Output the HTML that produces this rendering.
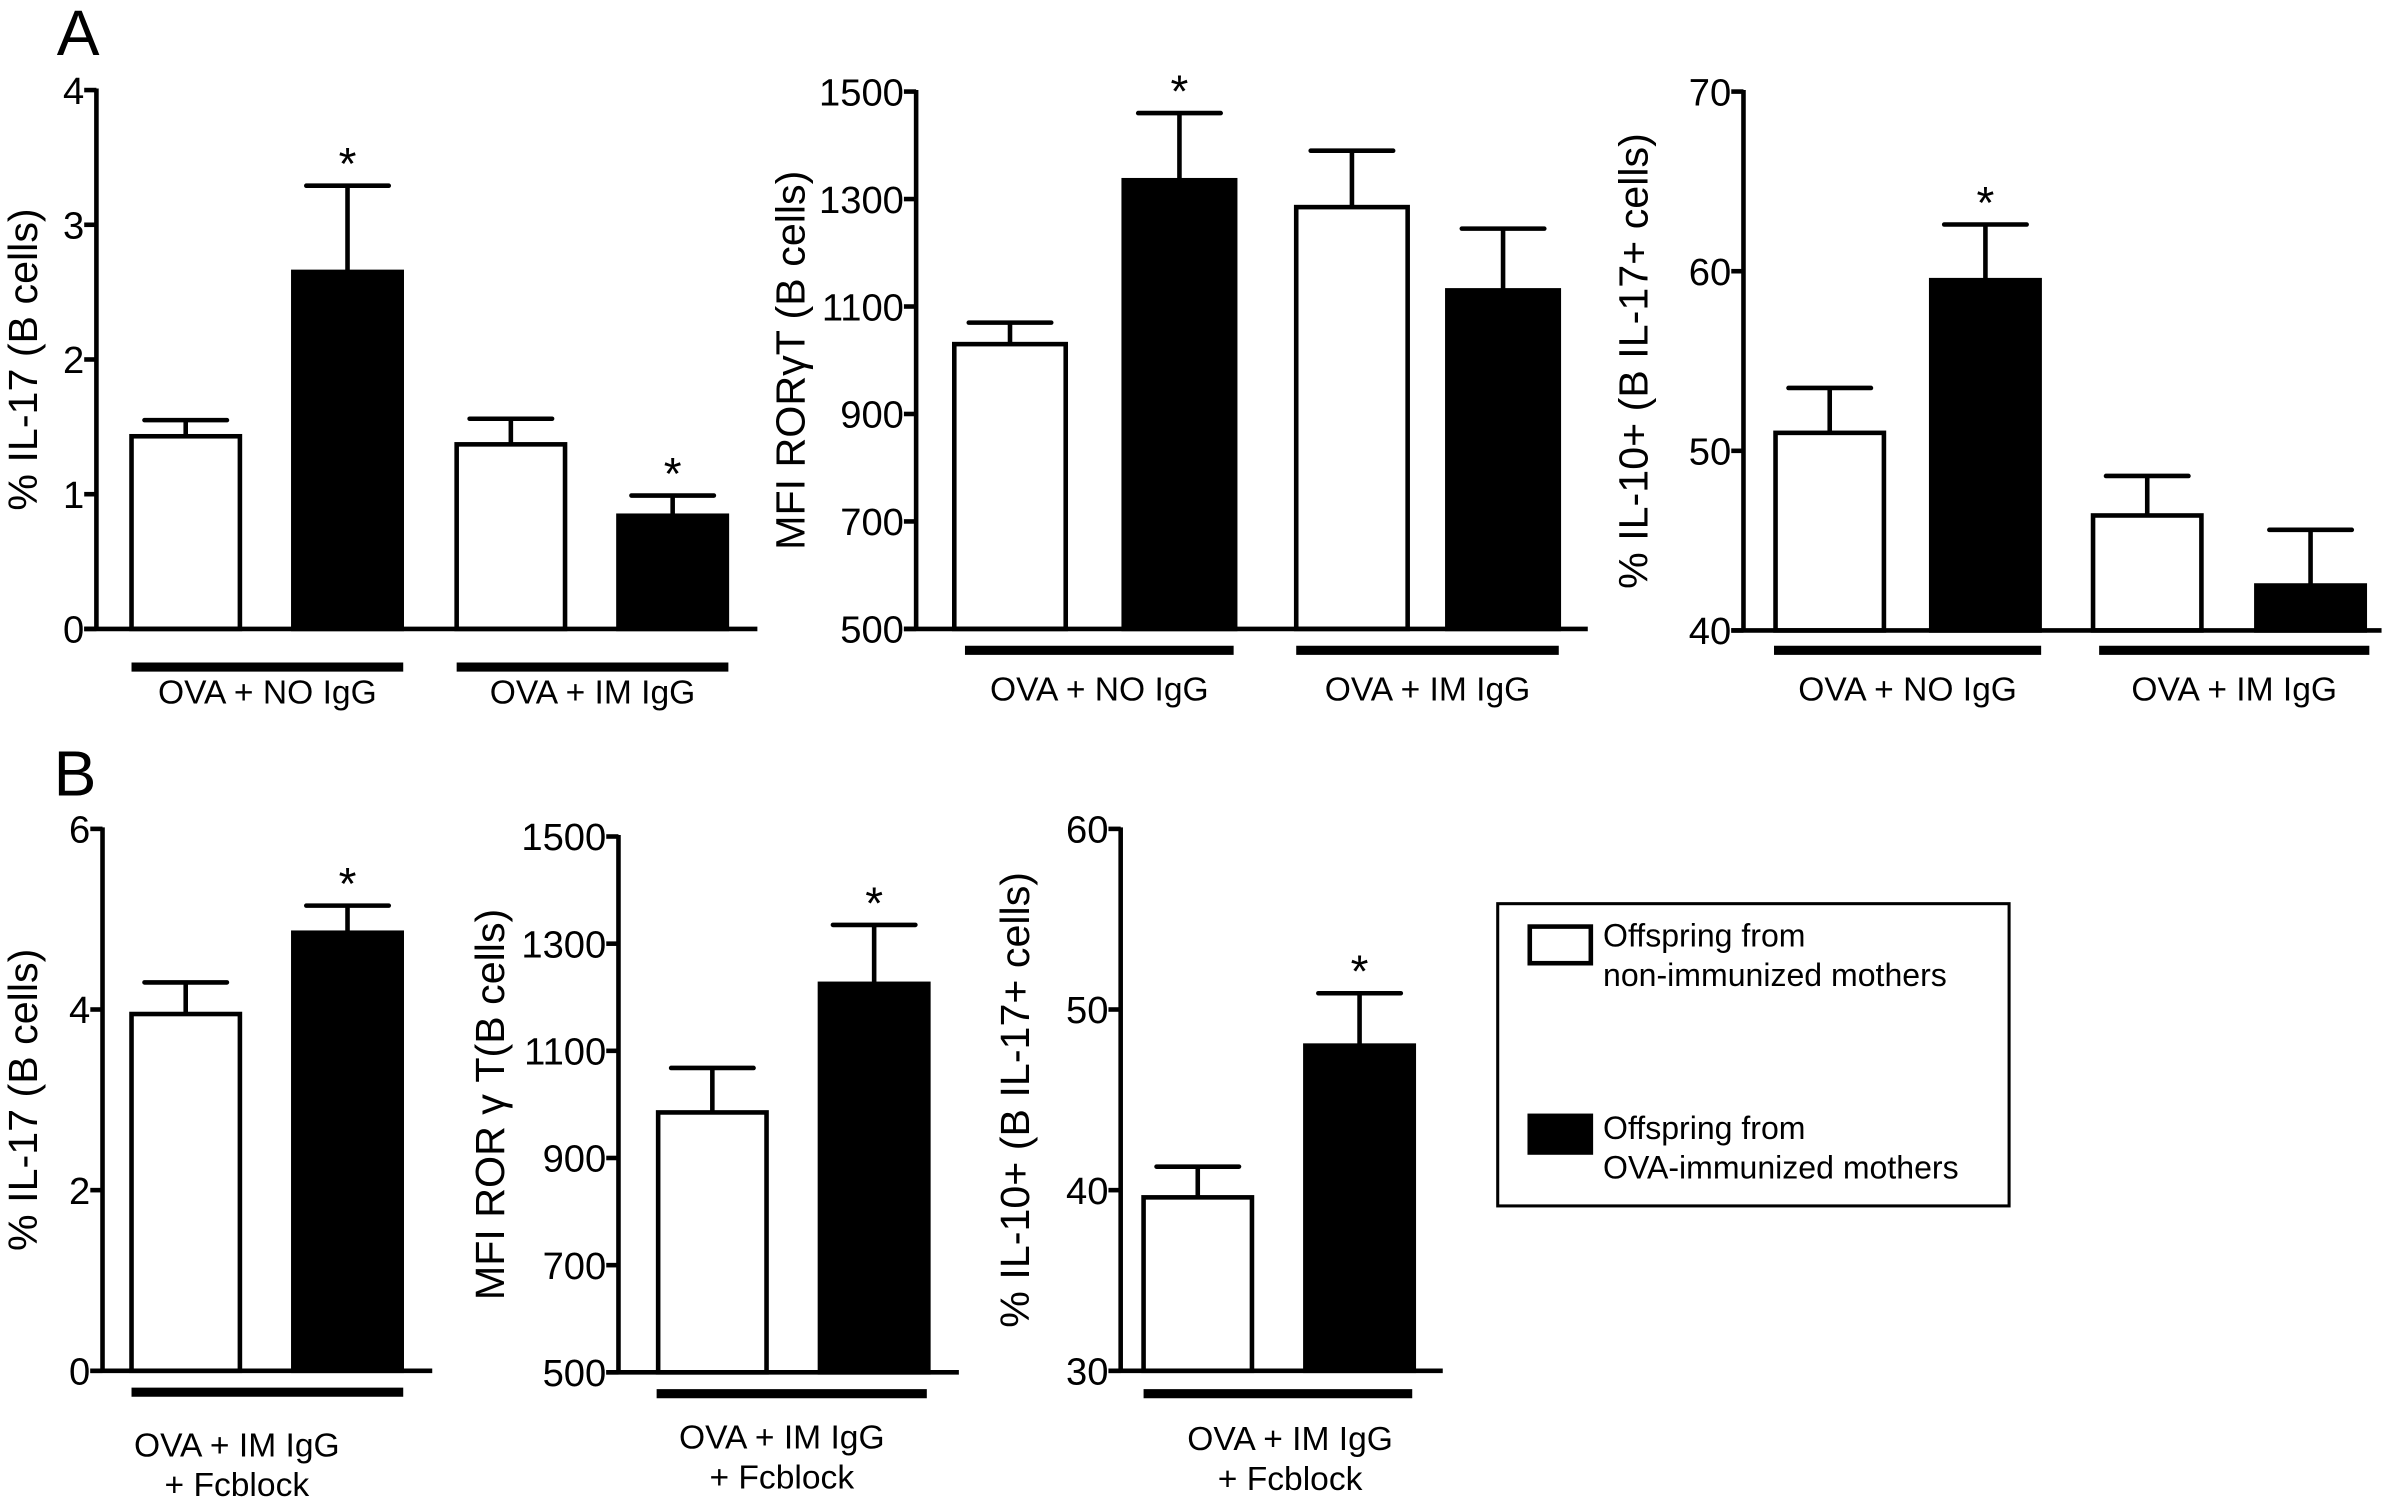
<!DOCTYPE html>
<html><head><meta charset="utf-8"><style>
html,body{margin:0;padding:0;background:#fff;}
svg{display:block;font-family:"Liberation Sans",Arial,sans-serif;}
</style></head><body>
<svg id="fig" width="2394" height="1499" viewBox="0 0 1568 982" xmlns="http://www.w3.org/2000/svg">
<rect width="1568" height="982" fill="#fff"/>
<text x="37" y="36" font-size="42">A</text>
<text x="35" y="521" font-size="42">B</text>
<g>
<rect x="981" y="592" width="335" height="198" fill="#fff" stroke="#000" stroke-width="2"/>
<rect x="1002" y="607" width="40" height="24" fill="#fff" stroke="#000" stroke-width="3"/>
<text x="1050" y="620" font-size="21"><tspan x="1050">Offspring from</tspan><tspan x="1050" dy="26">non-immunized mothers</tspan></text>
<rect x="1002" y="731" width="40" height="24" fill="#000" stroke="#000" stroke-width="3"/>
<text x="1050" y="746" font-size="21"><tspan x="1050">Offspring from</tspan><tspan x="1050" dy="26">OVA-immunized mothers</tspan></text>
</g>
</svg>
<script>
// Panel A1: % IL-17
const a1Values = [1.43, 2.65, 1.37, 0.84];
const a1Errors = [1.55, 3.29, 1.56, 0.99];
const a1Ticks = [0, 1, 2, 3, 4];
// Panel A2: MFI RORγT
const a2Values = [1030, 1335, 1285, 1130];
const a2Errors = [1070, 1460, 1390, 1245];
const a2Ticks = [500, 700, 900, 1100, 1300, 1500];
// Panel A3: % IL-10+
const a3Values = [51, 59.5, 46.4, 42.5];
const a3Errors = [53.5, 62.6, 48.6, 45.6];
const a3Ticks = [40, 50, 60, 70];
// Panel B1
const b1Values = [3.95, 4.85];
const b1Errors = [4.3, 5.15];
const b1Ticks = [0, 2, 4, 6];
// Panel B2
const b2Values = [985, 1225];
const b2Errors = [1068, 1335];
const b2Ticks = [500, 700, 900, 1100, 1300, 1500];
// Panel B3
const b3Values = [39.6, 48];
const b3Errors = [41.3, 50.9];
const b3Ticks = [30, 40, 50, 60];
const fills = ['#fff', '#000', '#fff', '#000'];
const starsA1 = [false, true, false, true];
const starsA2 = [false, true, false, false];
const starsA3 = [false, true, false, false];
const starsB = [false, true];

const NS = 'http://www.w3.org/2000/svg';
const svg = document.getElementById('fig');
function mk(tag, attrs, parent) {
  const e = document.createElementNS(NS, tag);
  for (const k in attrs) e.setAttribute(k, attrs[k]);
  (parent || svg).appendChild(e);
  return e;
}
function panel(p) {
  const g = mk('g', {});
  
  
  const lo = p.ticks[0], hi = p.ticks[p.ticks.length - 1];
  const y = v => p.y0 + (p.y1 - p.y0) * (v - lo) / (hi - lo);
  p.values.forEach((v, i) => {
    const x = p.barX[i], w = p.barW;
    const cx = x + w / 2;
    const eb = mk('line', {x1: cx, x2: cx, y1: y(v), y2: y(p.errors[i]), stroke: '#000', 'stroke-width': 3}, g);
    
    
    mk('line', {x1: cx - 27, x2: cx + 27, y1: y(p.errors[i]), y2: y(p.errors[i]), stroke: '#000', 'stroke-width': 3, 'stroke-linecap': 'round'}, g);
    const r = mk('rect', {x: x, y: y(v), width: w, height: p.y0 - y(v), fill: fills[i], stroke: '#000', 'stroke-width': 3}, g);
    
    
    if (p.stars[i]) {
      const s = mk('text', {x: cx, y: y(p.errors[i]) - 4, 'font-size': 30, 'text-anchor': 'middle'}, g);
      s.textContent = '*';
      
      
    }
  });
  mk('line', {x1: p.ax, x2: p.ax, y1: p.y1 - 1, y2: p.y0, stroke: '#000', 'stroke-width': 3}, g);
  mk('line', {x1: p.ax - 8, x2: p.xEnd, y1: p.y0, y2: p.y0, stroke: '#000', 'stroke-width': 3}, g);
  p.ticks.forEach(t => {
    mk('line', {x1: p.ax - 8, x2: p.ax, y1: y(t), y2: y(t), stroke: '#000', 'stroke-width': 3}, g);
    const tl = mk('text', {x: p.ax - 8, y: y(t) + 9, 'font-size': 25, 'text-anchor': 'end'}, g);
    tl.textContent = t;
    
    
  });
  const ty = (p.y0 + p.y1) / 2;
  const tt = mk('text', {x: p.titleX, y: ty, 'font-size': 27, 'text-anchor': 'middle', transform: 'rotate(-90 ' + p.titleX + ' ' + ty + ')'}, g);
  tt.textContent = p.title;
  
  
  p.groups.forEach(gr => {
    mk('line', {x1: gr[0], x2: gr[1], y1: p.gy, y2: p.gy, stroke: '#000', 'stroke-width': 6}, g);
    const cx = gr[3] !== undefined ? gr[3] : (gr[0] + gr[1]) / 2;
    gr[2].forEach((ln, k) => {
      const l = mk('text', {x: cx, y: p.ly + k * 26, 'font-size': 22, 'text-anchor': 'middle'}, g);
      l.textContent = ln;
      
      
    });
  });
}
panel({name: 'chart-a1-il17', values: a1Values, errors: a1Errors, ticks: a1Ticks, stars: starsA1,
  ax: 63, y0: 412, y1: 59, xEnd: 496, barX: [86, 192, 299, 405], barW: 71, titleX: 24, title: '% IL-17 (B cells)',
  gy: 437, ly: 461, groups: [[86, 264, ['OVA + NO IgG']], [299, 477, ['OVA + IM IgG']]]});
panel({name: 'chart-a2-rorgt', values: a2Values, errors: a2Errors, ticks: a2Ticks, stars: starsA2,
  ax: 600, y0: 412, y1: 60, xEnd: 1040, barX: [625, 736, 849, 948], barW: 73, titleX: 527, title: 'MFI RORγT (B cells)',
  gy: 426, ly: 459, groups: [[632, 808, ['OVA + NO IgG']], [849, 1021, ['OVA + IM IgG']]]});
panel({name: 'chart-a3-il10', values: a3Values, errors: a3Errors, ticks: a3Ticks, stars: starsA3,
  ax: 1142, y0: 413, y1: 60, xEnd: 1560, barX: [1163, 1265, 1371, 1478], barW: 71, titleX: 1079, title: '% IL-10+ (B IL-17+ cells)',
  gy: 426, ly: 459, groups: [[1162, 1337, ['OVA + NO IgG']], [1375, 1552, ['OVA + IM IgG']]]});
panel({name: 'chart-b1-il17', values: b1Values, errors: b1Errors, ticks: b1Ticks, stars: starsB,
  ax: 67, y0: 898, y1: 543, xEnd: 283, barX: [86, 192], barW: 71, titleX: 24, title: '% IL-17 (B cells)',
  gy: 912, ly: 954, groups: [[86, 264, ['OVA + IM IgG', '+ Fcblock'], 155]]});
panel({name: 'chart-b2-rorgt', values: b2Values, errors: b2Errors, ticks: b2Ticks, stars: starsB,
  ax: 405, y0: 899, y1: 548, xEnd: 628, barX: [431, 537], barW: 71, titleX: 330, title: 'MFI ROR γ T(B cells)',
  gy: 913, ly: 949, groups: [[430, 607, ['OVA + IM IgG', '+ Fcblock'], 512]]});
panel({name: 'chart-b3-il10', values: b3Values, errors: b3Errors, ticks: b3Ticks, stars: starsB,
  ax: 734, y0: 898, y1: 543, xEnd: 945, barX: [749, 855], barW: 71, titleX: 674, title: '% IL-10+ (B IL-17+ cells)',
  gy: 913, ly: 950, groups: [[749, 925, ['OVA + IM IgG', '+ Fcblock'], 845]]});
</script>
</body></html>
